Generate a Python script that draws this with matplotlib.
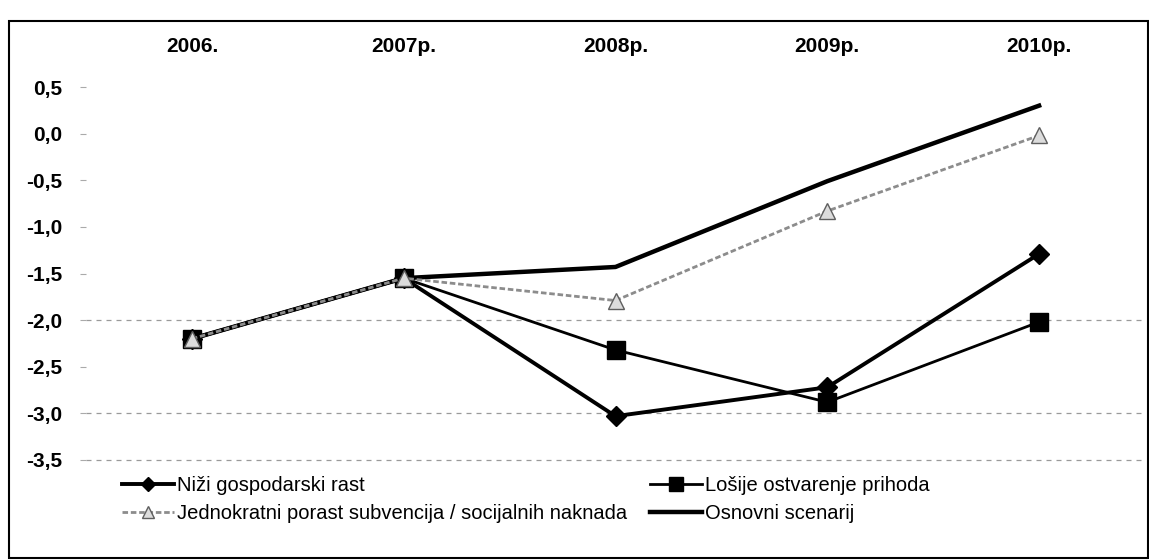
import matplotlib
matplotlib.use("Agg")
import matplotlib.pyplot as plt
from matplotlib.patches import Rectangle

years = ["2006.", "2007p.", "2008p.", "2009p.", "2010p."]
nizi = [-2.2, -1.55, -3.03, -2.72, -1.29]
losije = [-2.2, -1.55, -2.32, -2.88, -2.02]
jednokratni = [-2.2, -1.55, -1.79, -0.83, -0.02]
osnovni = [-2.2, -1.55, -1.43, -0.51, 0.30]
labels = ["Niži gospodarski rast", "Lošije ostvarenje prihoda",
          "Jednokratni porast subvencija / socijalnih naknada", "Osnovni scenarij"]
yticks = [0.5, 0.0, -0.5, -1.0, -1.5, -2.0, -2.5, -3.0, -3.5]
ytick_labels = ["0,5", "0,0", "-0,5", "-1,0", "-1,5", "-2,0", "-2,5", "-3,0", "-3,5"]
grid_levels = [-2.0, -3.0, -3.5]

plt.rcParams['font.family'] = ['Liberation Sans', 'DejaVu Sans']

fig = plt.figure(figsize=(11.49, 5.6), dpi=100)
ax = fig.add_axes([86/1149, 1-460/560, (1145-86)/1149, (460-87)/560])

x = list(range(len(years)))
for lv in grid_levels:
    ax.axhline(lv, color='#9a9a9a', lw=0.9, ls=(0, (4, 4)), zorder=0, clip_on=False)

l1, = ax.plot(x, nizi, color='black', lw=2.8, marker='D', ms=10, zorder=4)
l2, = ax.plot(x, losije, color='black', lw=2.0, marker='s', ms=13, zorder=3)
l3, = ax.plot(x, jednokratni, color='#8c8c8c', lw=2.0, ls=(0, (2, 1)),
              marker='^', ms=11, mfc='#dcdcdc', mec='#5e5e5e', mew=1.0, zorder=5)
l4, = ax.plot(x, osnovni, color='black', lw=3.2, zorder=2)

ax.set_xlim(-0.5, 4.5)
ax.set_ylim(-3.5, 0.5)
ax.set_xticks(x)
ax.set_xticklabels(years, fontsize=15, fontweight='bold')
ax.xaxis.tick_top()
ax.tick_params(axis='x', length=0, pad=22)
ax.set_yticks(yticks)
ax.set_yticklabels(ytick_labels, fontsize=15, fontweight='bold')
ax.tick_params(axis='y', length=4, color='#aaaaaa', pad=13)
for s in ax.spines.values():
    s.set_visible(False)

fig.legend([l1, l3, l2, l4], [labels[0], labels[2], labels[1], labels[3]],
           ncol=2, loc='upper left', bbox_to_anchor=(122/1149, 1-476/560),
           frameon=False, fontsize=14.5, handlelength=2.6, handletextpad=0.15,
           columnspacing=1.1, labelspacing=0.45, borderaxespad=0, borderpad=0,
           markerscale=0.75)

fig.patches.append(Rectangle((9/1149, 1-558/560), (1148-9)/1149, (558-21)/560,
                             transform=fig.transFigure, fill=False,
                             edgecolor='black', lw=1.5))

fig.savefig("out.png", dpi=100)
